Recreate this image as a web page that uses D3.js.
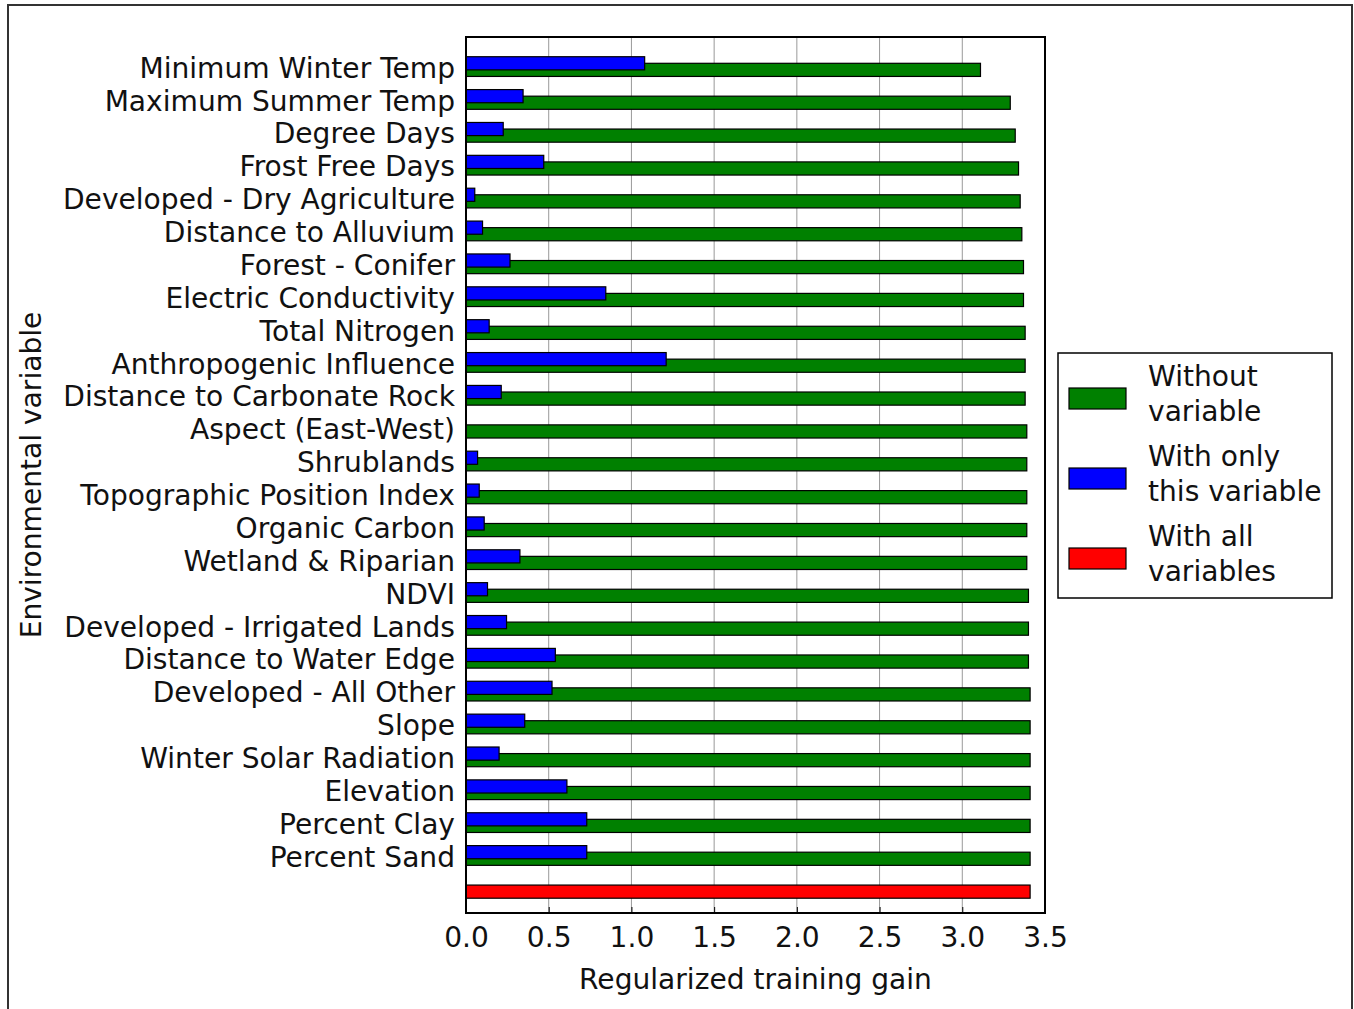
<!DOCTYPE html>
<html>
<head>
<meta charset="utf-8">
<script src="https://cdn.jsdelivr.net/npm/d3@7"></script>
<style>
  body { margin: 0; background: #fff; }
  text { font-family: "DejaVu Sans", sans-serif; fill: #111; }
</style>
</head>
<body>
<svg id="chart" width="1354" height="1009"></svg>
<script>
// data
var variables = ['Minimum Winter Temp', 'Maximum Summer Temp', 'Degree Days', 'Frost Free Days',
    'Developed - Dry Agriculture', 'Distance to Alluvium', 'Forest - Conifer', 'Electric Conductivity',
    'Total Nitrogen', 'Anthropogenic Influence', 'Distance to Carbonate Rock', 'Aspect (East-West)',
    'Shrublands', 'Topographic Position Index', 'Organic Carbon', 'Wetland & Riparian', 'NDVI',
    'Developed - Irrigated Lands', 'Distance to Water Edge', 'Developed - All Other', 'Slope',
    'Winter Solar Radiation', 'Elevation', 'Percent Clay', 'Percent Sand'];
var withoutVariable = [3.11, 3.29, 3.32, 3.34, 3.35, 3.36, 3.37, 3.37, 3.38, 3.38, 3.38, 3.39,
    3.39, 3.39, 3.39, 3.39, 3.40, 3.40, 3.40, 3.41, 3.41, 3.41, 3.41, 3.41, 3.41];
var withOnlyVariable = [1.08, 0.345, 0.225, 0.47, 0.053, 0.10, 0.266, 0.845, 0.14, 1.21, 0.213, 0,
    0.07, 0.08, 0.11, 0.326, 0.13, 0.245, 0.54, 0.52, 0.355, 0.20, 0.61, 0.73, 0.73];
var withAllVariables = [3.41];
var xTicks = [0, 0.5, 1, 1.5, 2, 2.5, 3, 3.5];
var legendLabels = [['Without', 'variable'], ['With only', 'this variable'], ['With all', 'variables']];
var colors = ['#008000', '#0000ff', '#ff0000'];

// layout
var plot = { left: 466, right: 1045, top: 37, bottom: 913 },
    barH = 0.4,
    fontSize = 28.1;

var svg = d3.select('#chart');

// outer figure frame
svg.append('rect')
    .attr('x', 8).attr('y', 5)
    .attr('width', 1344).attr('height', 1020)
    .attr('fill', 'none')
    .attr('stroke', '#333')
    .attr('stroke-width', 2);

var x = d3.scaleLinear().domain([0, 3.5]).range([plot.left, plot.right]);
var y = d3.scaleLinear().domain([0, 26.65]).range([plot.top, plot.bottom]);

// vertical grid
svg.append('g')
    .selectAll('line')
    .data(xTicks)
    .enter().append('line')
    .attr('x1', function (d) { return x(d); })
    .attr('x2', function (d) { return x(d); })
    .attr('y1', plot.top).attr('y2', plot.bottom)
    .attr('stroke', '#999')
    .attr('stroke-width', 1);

var bars = svg.append('g');

// green: model without the variable
bars.selectAll('rect.without')
    .data(withoutVariable)
    .enter().append('rect')
    .attr('class', 'without')
    .attr('x', x(0))
    .attr('y', function (d, i) { return y(i + 0.8); })
    .attr('width', function (d) { return x(d) - x(0); })
    .attr('height', y(barH) - y(0))
    .attr('fill', colors[0])
    .attr('stroke', '#000')
    .attr('stroke-width', 1.2);

// blue: model with only this variable
bars.selectAll('rect.only')
    .data(withOnlyVariable)
    .enter().append('rect')
    .attr('class', 'only')
    .attr('x', x(0))
    .attr('y', function (d, i) { return y(i + 0.6); })
    .attr('width', function (d) { return x(d) - x(0); })
    .attr('height', y(barH) - y(0))
    .attr('fill', colors[1])
    .attr('stroke', '#000')
    .attr('stroke-width', function (d) { return d > 0 ? 1.2 : 0; });

// red: full model
bars.selectAll('rect.all')
    .data(withAllVariables)
    .enter().append('rect')
    .attr('class', 'all')
    .attr('x', x(0))
    .attr('y', y(variables.length + 0.8))
    .attr('width', function (d) { return x(d) - x(0); })
    .attr('height', y(barH) - y(0))
    .attr('fill', colors[2])
    .attr('stroke', '#000')
    .attr('stroke-width', 1.2);

// axes
var xAxis = d3.axisBottom(x)
    .tickValues(xTicks)
    .tickFormat(d3.format('.1f'))
    .tickSize(-6)
    .tickPadding(14);
var gx = svg.append('g')
    .attr('transform', 'translate(0,' + plot.bottom + ')')
    .call(xAxis);
gx.select('.domain').remove();
gx.selectAll('.tick line').attr('stroke', '#000');
gx.selectAll('.tick text')
    .style('font-size', fontSize + 'px')
    .style('font-family', '"DejaVu Sans", sans-serif')
    .style('fill', '#111');

var yAxis = d3.axisLeft(y)
    .tickValues(d3.range(variables.length).map(function (i) { return i + 0.95; }))
    .tickFormat(function (d, i) { return variables[i]; })
    .tickSize(0)
    .tickPadding(11);
var gy = svg.append('g')
    .attr('transform', 'translate(' + plot.left + ',0)')
    .call(yAxis);
gy.select('.domain').remove();
gy.selectAll('.tick text')
    .style('font-size', fontSize + 'px')
    .style('font-family', '"DejaVu Sans", sans-serif')
    .style('fill', '#111');

// plot frame
svg.append('rect')
    .attr('x', plot.left).attr('y', plot.top)
    .attr('width', plot.right - plot.left)
    .attr('height', plot.bottom - plot.top)
    .attr('fill', 'none')
    .attr('stroke', '#000')
    .attr('stroke-width', 2);

// axis titles
svg.append('text')
    .attr('x', (plot.left + plot.right) / 2)
    .attr('y', 989)
    .attr('text-anchor', 'middle')
    .style('font-size', fontSize + 'px')
    .text('Regularized training gain');

svg.append('text')
    .attr('transform', 'translate(41,' + (plot.top + plot.bottom) / 2 + ') rotate(-90)')
    .attr('text-anchor', 'middle')
    .style('font-size', fontSize + 'px')
    .text('Environmental variable');

// legend
var legend = svg.append('g');
legend.append('rect')
    .attr('x', 1058).attr('y', 353)
    .attr('width', 274).attr('height', 245)
    .attr('fill', '#fff')
    .attr('stroke', '#000')
    .attr('stroke-width', 1.5);

var item = legend.selectAll('g.item')
    .data(legendLabels)
    .enter().append('g')
    .attr('class', 'item')
    .attr('transform', function (d, i) { return 'translate(0,' + (i * 80) + ')'; });

item.append('rect')
    .attr('x', 1069).attr('y', 388)
    .attr('width', 57).attr('height', 21)
    .attr('fill', function (d, i) { return colors[i]; })
    .attr('stroke', '#000')
    .attr('stroke-width', 1.2);

item.selectAll('text')
    .data(function (d) { return d; })
    .enter().append('text')
    .attr('x', 1148)
    .attr('y', function (d, j) { return 386 + j * 35; })
    .style('font-size', fontSize + 'px')
    .text(function (d) { return d; });
</script>
</body>
</html>
